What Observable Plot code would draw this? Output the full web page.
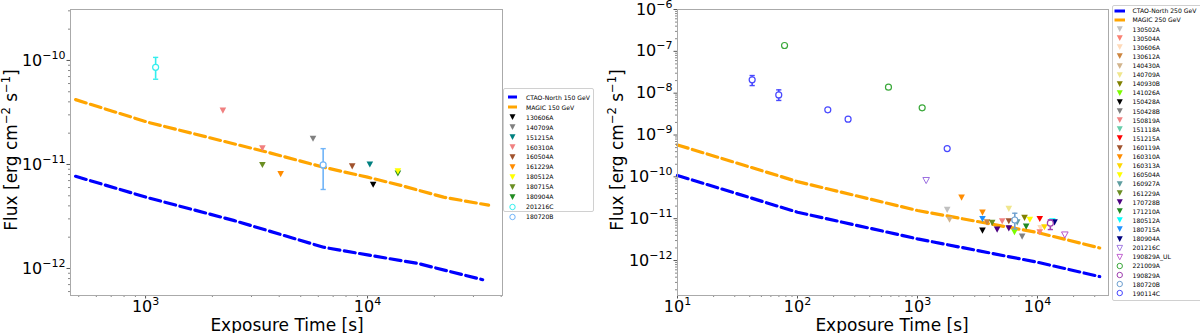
<!DOCTYPE html>
<html><head><meta charset="utf-8">
<script src="https://cdn.jsdelivr.net/npm/d3@7"></script>
<script src="https://cdn.jsdelivr.net/npm/@observablehq/plot@0.6"></script>
<style>
html,body{margin:0;padding:0;background:#fff;}
body{width:1200px;height:333px;position:relative;overflow:hidden;font-family:"DejaVu Sans",sans-serif;color:#000;}
.panel{position:absolute;top:0;}
.lab{position:absolute;white-space:nowrap;font-size:17px;line-height:1;}
.lab sup{font-size:11.5px;vertical-align:0;position:relative;top:-7px;}
.legend{position:absolute;background:#fff;border:1px solid #d0d0d0;border-radius:2px;box-sizing:border-box;font-size:6.1px;}
.legend .row{display:flex;align-items:center;white-space:nowrap;}
.legend svg{display:block;flex:none;}
</style></head>
<body>
<div id="left" class="panel" style="left:0px"></div>
<div id="right" class="panel" style="left:600px"></div>
<script>
// ================= LEFT PANEL: 150 GeV =================
const ctao150 = [[484,7.7e-12],[1021,4.8e-12],[2490,2.9e-12],[6340,1.6e-12],[10000,1.35e-12],[16800,1.12e-12],[33000,7.8e-13]];
const magic150 = [[484,4.2e-11],[1021,2.55e-11],[2180,1.7e-11],[3550,1.31e-11],[6340,9.4e-12],[10000,7.55e-12],[14100,6.3e-12],[22000,4.85e-12],[35100,4.06e-12]];
// upper limits: [GRB, exposure s, flux]
const ul150 = [
  ["160310A",2230,3.3e-11],["160310A",3360,1.43e-11],["180715A",3360,9.9e-12],
  ["161229A",4060,8.1e-12],["140709A",5680,1.77e-11],["160504A",8530,9.6e-12],
  ["151215A",10240,1.0e-11],["130606A",10600,6.4e-12],["180904A",13700,8.2e-12],
  ["180512A",13700,8.6e-12]
];
// detections: [GRB, exposure s, flux, low, high]
const det150 = [["201216C",1110,8.6e-11,6.6e-11,1.07e-10],["180720B",6310,9.9e-12,5.75e-12,1.42e-11]];
const colors150 = {
  "130606A":"#000000","140709A":"#808080","151215A":"#008080","160310A":"#f08080",
  "160504A":"#a0522d","161229A":"#ff8c00","180512A":"#ffff00","180715A":"#6b8e23",
  "180904A":"#228b22","201216C":"#33eeee","180720B":"#70b4f8"
};
const legend150 = [
  ["CTAO-North 150 GeV","line","#0000ff"],["MAGIC 150 GeV","line","#ffa500"],
  ["130606A","tri"],["140709A","tri"],["151215A","tri"],["160310A","tri"],["160504A","tri"],
  ["161229A","tri"],["180512A","tri"],["180715A","tri"],["180904A","tri"],
  ["201216C","circ"],["180720B","circ"]
];
const xMajor150 = [1e3,1e4];
const yMajor150 = [1e-12,1e-11,1e-10];

// ================= RIGHT PANEL: 250 GeV =================
const ctao250 = [[10,1.08e-10],[100,1.43e-11],[1000,3.3e-12],[10000,9.1e-13],[33000,4.14e-13]];
const magic250 = [[10,5.8e-10],[100,7.7e-11],[1000,1.57e-11],[10000,4.67e-12],[33000,2.0e-12]];
const ul250 = [
  ["130502A",1768,1.63e-11],["140430A",1849,9.5e-12],["160310A",2330,3.2e-11],
  ["160310A",3480,1.4e-11],["180715A",3480,9.9e-12],["150428A",3480,5.2e-12],
  ["130612A",3800,8.2e-12],["161229A",4190,8.0e-12],["170728B",4610,5.5e-12],
  ["150819A",5080,8.7e-12],["140709A",5770,1.72e-11],["160119A",5770,8.7e-12],
  ["170728B",5770,5.9e-12],["141026A",6430,4.75e-12],["160927A",6780,8.2e-12],
  ["150428B",7450,3.74e-12],["140930B",7800,1.05e-11],["171210A",8050,6.5e-12],
  ["160504A",8630,9.5e-12],["151215A",10450,9.9e-12],["130606A",10600,6.0e-12],
  ["130504A",10450,4.75e-12],["160313A",11430,6.25e-12],["180512A",13300,8.7e-12],
  ["180904A",13870,8.2e-12]
];
const ulOpen250 = [["201216C",1181,8.2e-11],["190829A_UL",16900,4.1e-12]];
const det250 = [
  ["190114C",41.9,2.09e-8,1.52e-8,2.64e-8],["190114C",69.8,9.1e-9,6.7e-9,1.2e-8],
  ["190114C",178.9,4.0e-9,null,null],["190114C",264,2.39e-9,null,null],["190114C",1768,4.75e-10,null,null],
  ["221009A",78,1.38e-7,null,null],["221009A",573,1.39e-8,null,null],["221009A",1094,4.47e-9,null,null],
  ["190829A",12800,7.8e-12,5.5e-12,9.4e-12],["180720B",6470,9.3e-12,5.7e-12,1.35e-11]
];
const colors250 = {
  "130502A":"#c0c0c0","130504A":"#fa8072","130606A":"#ffdab9","130612A":"#cd853f",
  "140430A":"#d2b48c","140709A":"#f0e68c","140930B":"#808000","141026A":"#7cfc00",
  "150428A":"#000000","150428B":"#808080","150819A":"#f08080","151118A":"#66cdaa",
  "151215A":"#ff0000","160119A":"#a0522d","160310A":"#ff8c00","160313A":"#ffd700",
  "160504A":"#ffff00","160927A":"#5f9ea0","161229A":"#6b8e23","170728B":"#4b0082",
  "171210A":"#228b22","180512A":"#00ffff","180715A":"#1e90ff","180904A":"#000080",
  "201216C":"#9b6fe0","190829A_UL":"#bb55cc","221009A":"#3aa83a","190829A":"#a040b0",
  "180720B":"#6fa0d0","190114C":"#4848ff"
};
const legend250 = [
  ["CTAO-North 250 GeV","line","#0000ff"],["MAGIC 250 GeV","line","#ffa500"],
  ["130502A","tri"],["130504A","tri"],["130606A","tri"],["130612A","tri"],["140430A","tri"],
  ["140709A","tri"],["140930B","tri"],["141026A","tri"],["150428A","tri"],["150428B","tri"],
  ["150819A","tri"],["151118A","tri"],["151215A","tri"],["160119A","tri"],["160310A","tri"],
  ["160313A","tri"],["160504A","tri"],["160927A","tri"],["161229A","tri"],["170728B","tri"],
  ["171210A","tri"],["180512A","tri"],["180715A","tri"],["180904A","tri"],
  ["201216C","otri"],["190829A_UL","otri"],["221009A","circ"],["190829A","circ"],
  ["180720B","circ"],["190114C","circ"]
];
const xMajor250 = [1e1,1e2,1e3,1e4];
const yMajor250 = [1e-12,1e-11,1e-10,1e-9,1e-8,1e-7,1e-6];

// ================= helpers =================
const triDown = {draw(ctx, size){ const r = Math.sqrt(size/Math.PI);
  ctx.moveTo(-r,-r*0.9); ctx.lineTo(r,-r*0.9); ctx.lineTo(0,r*0.95); ctx.closePath(); }};
const hbar = {draw(ctx, size){ const r = Math.sqrt(size/Math.PI); ctx.moveTo(-r,0); ctx.lineTo(r,0); }};

function minors(lo, hi){ // minor log ticks between lo and hi
  const out = [];
  for (let e = Math.floor(Math.log10(lo)); e <= Math.ceil(Math.log10(hi)); e++)
    for (let m = 2; m <= 9; m++){ const v = m*Math.pow(10,e); if (v >= lo && v <= hi) out.push(v); }
  return out;
}
const pow10 = d => "10^" + Math.round(Math.log10(d));

function supify(svg){
  svg.querySelectorAll("text").forEach(t => {
    const m = /^10\^(-?\d+)$/.exec(t.textContent.trim());
    if (!m) return;
    t.textContent = "";
    const base = document.createElementNS("http://www.w3.org/2000/svg","tspan");
    base.textContent = "10";
    const sup = document.createElementNS("http://www.w3.org/2000/svg","tspan");
    sup.textContent = m[1].replace("-","\u2212");
    sup.setAttribute("font-size","11px");
    sup.setAttribute("dy","-7");
    t.appendChild(base); t.appendChild(sup);
  });
}

function panel({width, marginLeft, xDomain, yDomain, xMajor, yMajor, ctao, magic, ul, ulOpen, det, colors}){
  const lines = [
    Plot.line(ctao, {x: d=>d[0], y: d=>d[1], stroke:"#0000ff", strokeWidth:3.2, strokeDasharray:"11,4.5", curve:"linear"}),
    Plot.line(magic, {x: d=>d[0], y: d=>d[1], stroke:"#ffa500", strokeWidth:3.2, strokeDasharray:"11,4.5", curve:"linear"})
  ];
  const err = det.filter(d => d[3] != null);
  const marks = [
    ...lines,
    Plot.dot(ul, {x: d=>d[1], y: d=>d[2], symbol: triDown, r:3.3, fill: d=>colors[d[0]], stroke:"none"}),
    Plot.dot(ulOpen, {x: d=>d[1], y: d=>d[2], symbol: triDown, r:3.3, fill:"none", stroke: d=>colors[d[0]], strokeWidth:1}),
    Plot.ruleX(err, {x: d=>d[1], y1: d=>d[3], y2: d=>d[4], stroke: d=>colors[d[0]], strokeWidth:1.6}),
    Plot.dot(err, {x: d=>d[1], y: d=>d[3], symbol: hbar, r:2.6, stroke: d=>colors[d[0]], strokeWidth:1.4}),
    Plot.dot(err, {x: d=>d[1], y: d=>d[4], symbol: hbar, r:2.6, stroke: d=>colors[d[0]], strokeWidth:1.4}),
    Plot.dot(det, {x: d=>d[1], y: d=>d[2], r:3, fill:"#fff", stroke: d=>colors[d[0]], strokeWidth:1.2}),
    Plot.axisX(xMajor, {tickSize:3.5, tickPadding:1.5, tickFormat: pow10, stroke:"#555", label:null}),
    Plot.axisX(minors(xDomain[0], xDomain[1]), {tickSize:2, tickFormat: () => "", stroke:"#888", label:null}),
    Plot.axisY(yMajor, {tickSize:3.5, tickPadding:1.5, tickFormat: pow10, stroke:"#555", label:null}),
    Plot.axisY(minors(yDomain[0], yDomain[1]), {tickSize:2, tickFormat: () => "", stroke:"#888", label:null}),
    Plot.frame({stroke:"#aaaaaa", strokeWidth:1})
  ];
  const svg = Plot.plot({
    width, height:333, marginLeft, marginRight:0, marginTop:9, marginBottom:38,
    x:{type:"log", domain:xDomain, label:null},
    y:{type:"log", domain:yDomain, label:null},
    color:{type:"identity"},
    style:{fontFamily:"DejaVu Sans, sans-serif", fontSize:"16px", color:"#000", background:"transparent", overflow:"visible"},
    marks
  });
  supify(svg);
  return svg;
}

document.getElementById("left").appendChild(panel({
  width:502, marginLeft:70, xDomain:[459,40550], yDomain:[5.5e-13,3.09e-10],
  xMajor:xMajor150, yMajor:yMajor150, ctao:ctao150, magic:magic150, ul:ul150, ulOpen:[], det:det150, colors:colors150
}));
document.getElementById("right").appendChild(panel({
  width:508, marginLeft:77, xDomain:[10,39070], yDomain:[1.46e-13,1e-6],
  xMajor:xMajor250, yMajor:yMajor250, ctao:ctao250, magic:magic250, ul:ul250, ulOpen:ulOpen250, det:det250, colors:colors250
}));

// axis titles
function label(text, cx, cy, rotate){
  const d = document.createElement("div");
  d.className = "lab";
  d.innerHTML = text;
  d.style.left = cx + "px"; d.style.top = cy + "px";
  d.style.transform = "translate(-50%,-50%)" + (rotate ? " rotate(-90deg)" : "");
  document.body.appendChild(d);
}
const yTitle = "Flux [erg cm<sup>\u22122</sup> s<sup>\u22121</sup>]";
label("Exposure Time [s]", 287, 324.5, false);
label("Exposure Time [s]", 892, 324.5, false);
label(yTitle, 11, 150, true);
label(yTitle, 617, 150, true);

// legends
function legend(items, colors, box){
  const L = document.createElement("div");
  L.className = "legend";
  Object.assign(L.style, {left: box.left+"px", top: box.top+"px", width: box.width+"px", height: box.height+"px", paddingTop: box.pad+"px"});
  items.forEach(([name, kind, col]) => {
    const c = col || colors[name];
    const row = document.createElement("div");
    row.className = "row"; row.style.height = box.row + "px";
    let shape;
    if (kind === "line") shape = `<line x1="${box.sx}" x2="${box.sx+box.sw}" y1="5" y2="5" stroke="${c}" stroke-width="3"/>`;
    else if (kind === "tri") shape = `<path transform="translate(${box.sx+box.sw/2},5)" d="M-3,-2.8L3,-2.8L0,3Z" fill="${c}"/>`;
    else if (kind === "otri") shape = `<path transform="translate(${box.sx+box.sw/2},5)" d="M-2.8,-2.6L2.8,-2.6L0,2.8Z" fill="none" stroke="${c}" stroke-width="0.9"/>`;
    else shape = `<circle cx="${box.sx+box.sw/2}" cy="5" r="2.7" fill="none" stroke="${c}" stroke-width="1"/>`;
    row.innerHTML = `<svg width="${box.tx}" height="10">${shape}</svg><span>${name}</span>`;
    L.appendChild(row);
  });
  document.body.appendChild(L);
}
legend(legend150, colors150, {left:503, top:88, width:91, height:124, pad:3.4, row:9.94, sx:4, sw:9, tx:22});
legend(legend250, colors250, {left:1112, top:5, width:100, height:296, pad:0.3, row:9.12, sx:1.5, sw:10.5, tx:19.5});
</script>
</body></html>
